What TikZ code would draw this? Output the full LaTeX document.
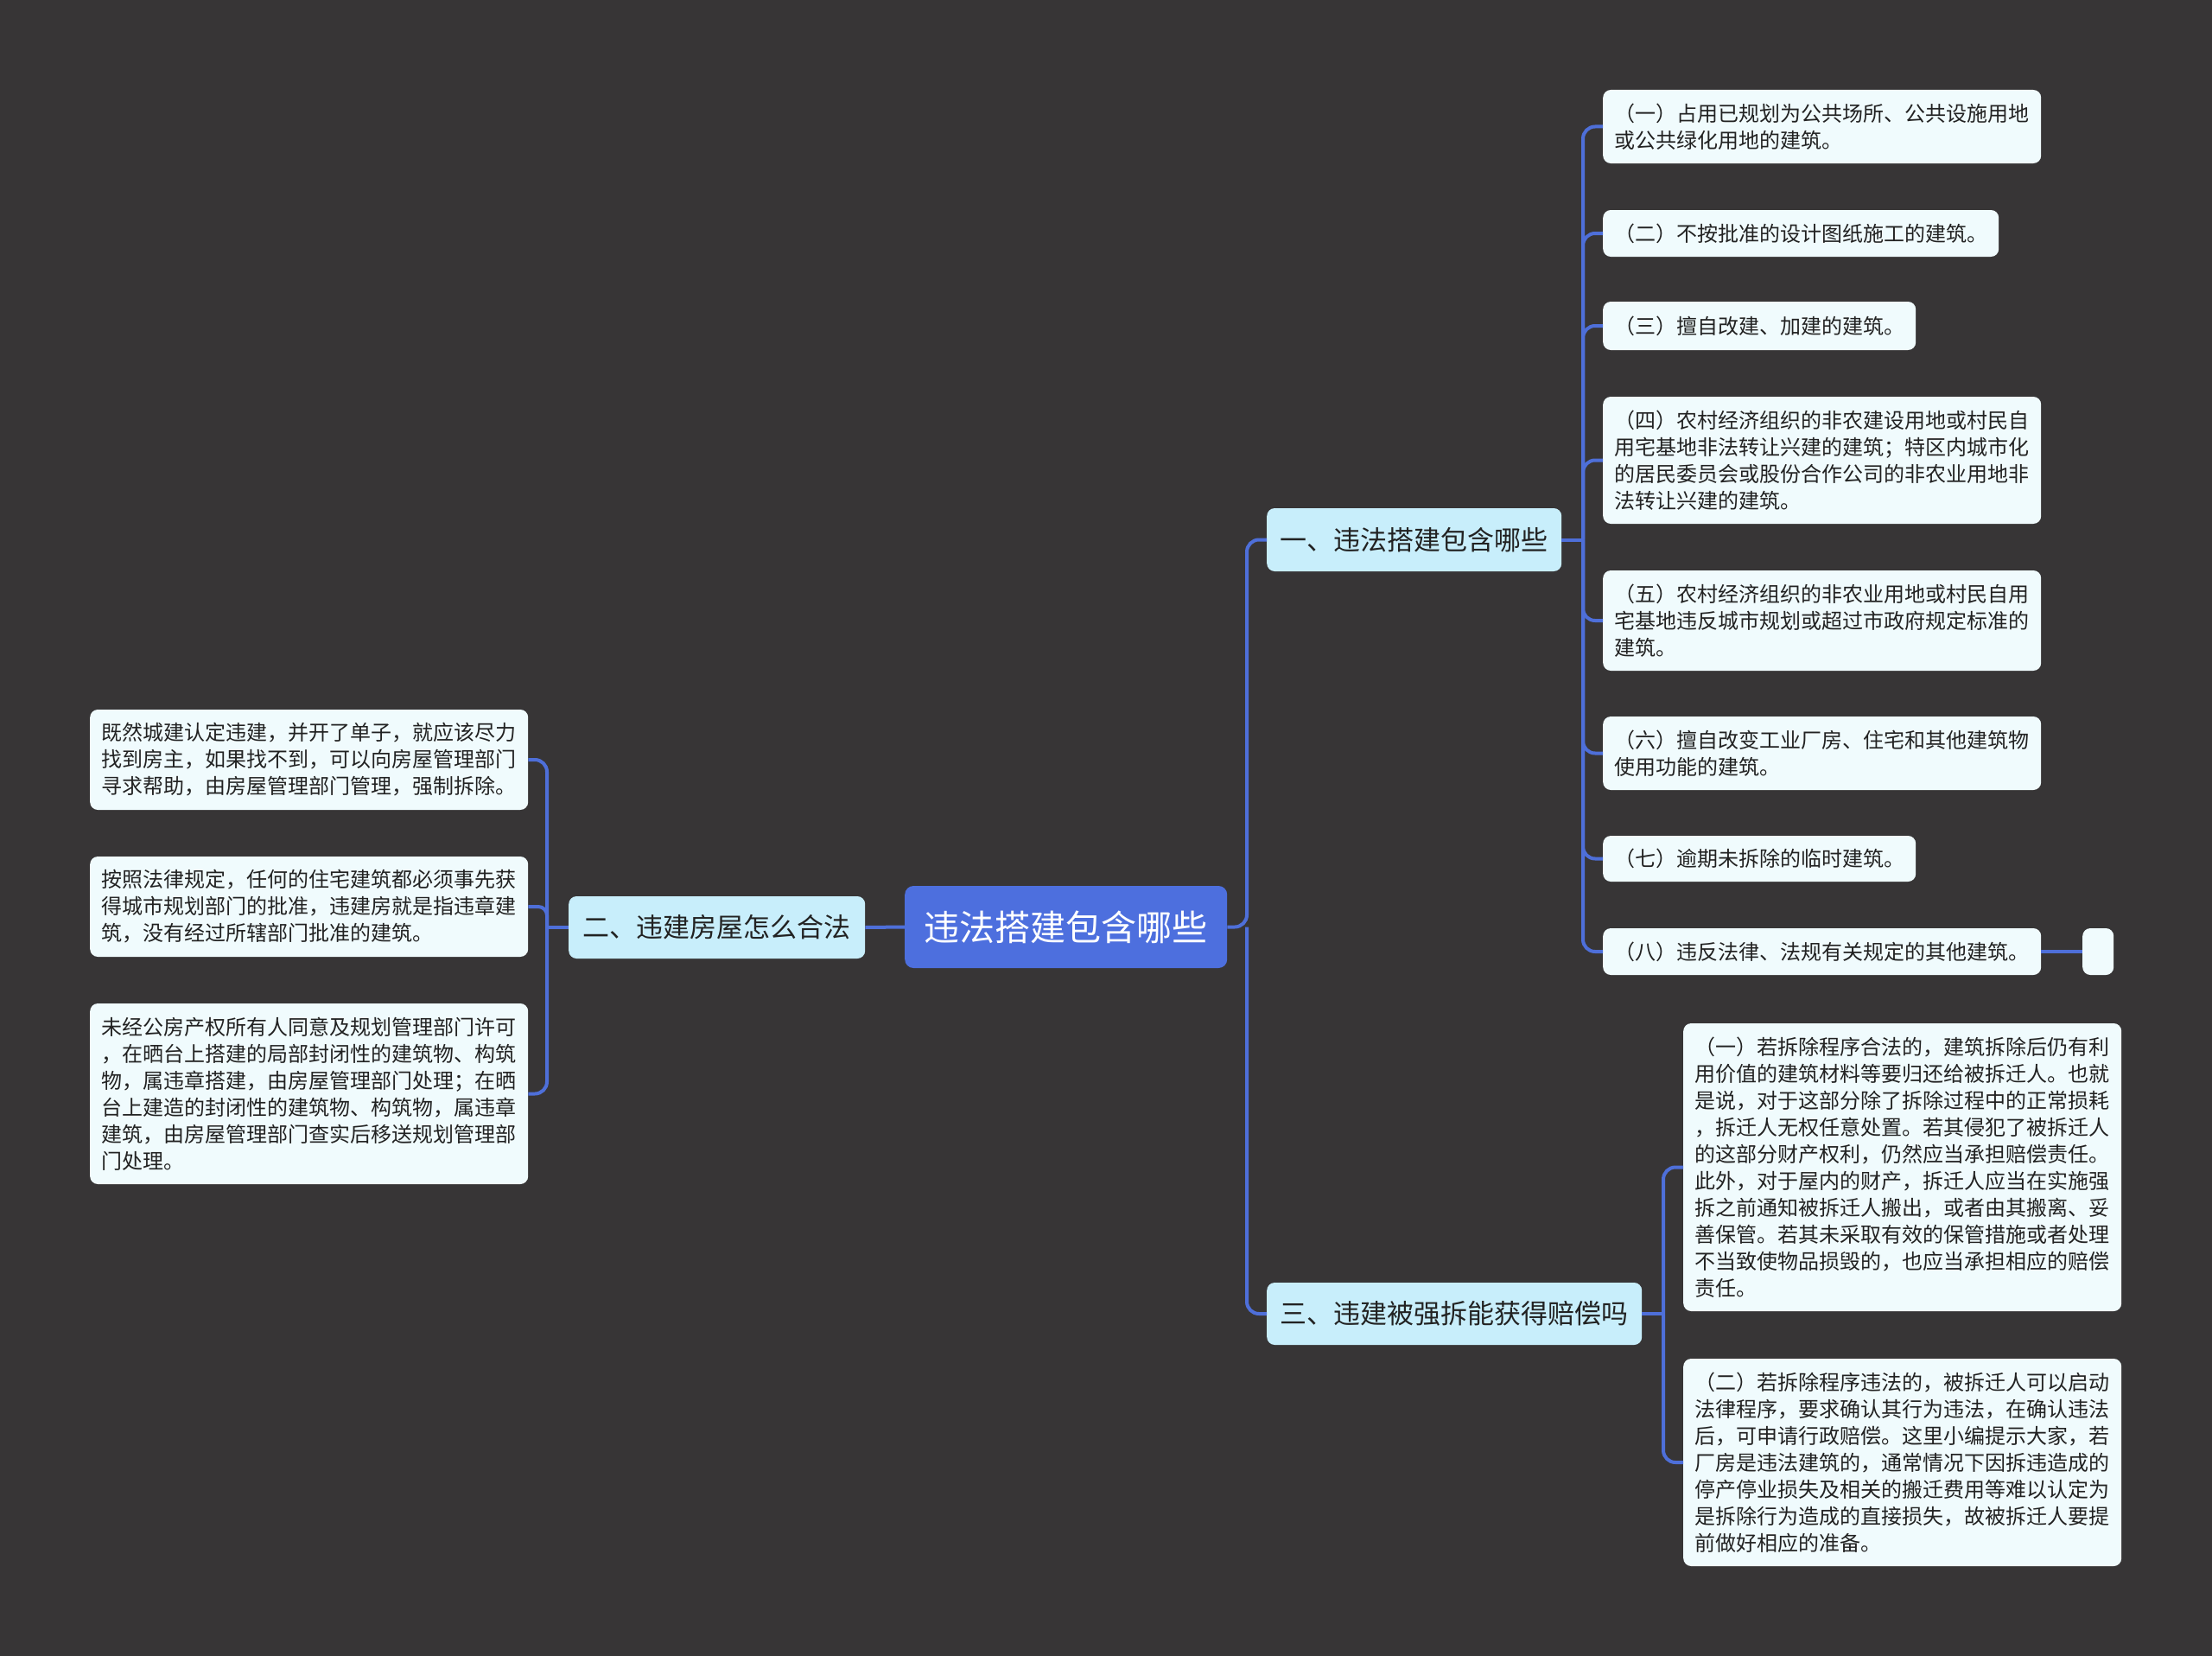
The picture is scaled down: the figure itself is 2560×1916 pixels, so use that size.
\documentclass[tikz,border=0pt]{standalone}
\usepackage{fontspec}
\setmainfont{Noto Sans CJK SC}
\definecolor{bgcol}{RGB}{55,53,54}
\definecolor{leaffill}{RGB}{240,251,253}
\definecolor{branchfill}{RGB}{200,238,251}
\definecolor{rootfill}{RGB}{77,111,222}
\definecolor{linecol}{RGB}{78,111,217}
\definecolor{textdark}{RGB}{34,34,34}
\begin{document}
\begin{tikzpicture}[x=1pt,y=-1pt,
  leaf/.style={fill=leaffill, rounded corners=9pt, anchor=west, inner xsep=13pt, inner ysep=0pt, align=left, font=\fontsize{24}{31}\selectfont, text=textdark},
  branch/.style={fill=branchfill, rounded corners=9pt, anchor=west, inner sep=0pt, font=\fontsize{31}{36}\selectfont, text=textdark},
  rootbox/.style={fill=rootfill, rounded corners=10pt, anchor=west, inner sep=0pt, font=\fontsize{41}{48}\selectfont, text=white},
  conn/.style={draw=linecol, line width=4pt, rounded corners=14pt}
]
\fill[bgcol] (0,0) rectangle (2560,1916);
\useasboundingbox (0,0) rectangle (2560,1916);

% root and branches
\node[rootbox, minimum width=373pt, minimum height=95pt] (root) at (1047,1072.5) {违法搭建包含哪些};
\node[branch, minimum width=341pt, minimum height=73pt] (b1) at (1466,624.5) {一、违法搭建包含哪些};
\node[branch, minimum width=343pt, minimum height=72pt] (b2) at (658,1073) {二、违建房屋怎么合法};
\node[branch, minimum width=434pt, minimum height=72pt] (b3) at (1466,1520) {三、违建被强拆能获得赔偿吗};

% branch 1 leaves
\node[leaf, text width=481pt, minimum height=85pt] (l1) at (1855,146.5) {（一）占用已规划为公共场所、公共设施用地\\或公共绿化用地的建筑。};
\node[leaf, text width=432pt, minimum height=54pt] (l2) at (1855,270) {（二）不按批准的设计图纸施工的建筑。};
\node[leaf, text width=336pt, minimum height=56pt] (l3) at (1855,377) {（三）擅自改建、加建的建筑。};
\node[leaf, text width=481pt, minimum height=147pt] (l4) at (1855,532.5) {（四）农村经济组织的非农建设用地或村民自\\用宅基地非法转让兴建的建筑；特区内城市化\\的居民委员会或股份合作公司的非农业用地非\\法转让兴建的建筑。};
\node[leaf, text width=481pt, minimum height=116pt] (l5) at (1855,718) {（五）农村经济组织的非农业用地或村民自用\\宅基地违反城市规划或超过市政府规定标准的\\建筑。};
\node[leaf, text width=481pt, minimum height=85pt] (l6) at (1855,871.5) {（六）擅自改变工业厂房、住宅和其他建筑物\\使用功能的建筑。};
\node[leaf, text width=336pt, minimum height=53pt] (l7) at (1855,993.5) {（七）逾期未拆除的临时建筑。};
\node[leaf, text width=481pt, minimum height=54pt] (l8) at (1855,1101) {（八）违反法律、法规有关规定的其他建筑。};
\node[leaf, inner xsep=0pt, minimum width=36pt, minimum height=54pt] (e8) at (2410,1101) {};

% branch 3 leaves
\node[leaf, text width=481pt, minimum height=333pt] (m1) at (1948,1350.5) {（一）若拆除程序合法的，建筑拆除后仍有利\\用价值的建筑材料等要归还给被拆迁人。也就\\是说，对于这部分除了拆除过程中的正常损耗\\，拆迁人无权任意处置。若其侵犯了被拆迁人\\的这部分财产权利，仍然应当承担赔偿责任。\\此外，对于屋内的财产，拆迁人应当在实施强\\拆之前通知被拆迁人搬出，或者由其搬离、妥\\善保管。若其未采取有效的保管措施或者处理\\不当致使物品损毁的，也应当承担相应的赔偿\\责任。};
\node[leaf, text width=481pt, minimum height=240pt] (m2) at (1948,1692) {（二）若拆除程序违法的，被拆迁人可以启动\\法律程序，要求确认其行为违法，在确认违法\\后，可申请行政赔偿。这里小编提示大家，若\\厂房是违法建筑的，通常情况下因拆违造成的\\停产停业损失及相关的搬迁费用等难以认定为\\是拆除行为造成的直接损失，故被拆迁人要提\\前做好相应的准备。};

% branch 2 leaves
\node[leaf, text width=481pt, minimum height=116pt] (n1) at (104,879) {既然城建认定违建，并开了单子，就应该尽力\\找到房主，如果找不到，可以向房屋管理部门\\寻求帮助，由房屋管理部门管理，强制拆除。};
\node[leaf, text width=481pt, minimum height=116pt] (n2) at (104,1049) {按照法律规定，任何的住宅建筑都必须事先获\\得城市规划部门的批准，违建房就是指违章建\\筑，没有经过所辖部门批准的建筑。};
\node[leaf, text width=481pt, minimum height=209pt] (n3) at (104,1265.5) {未经公房产权所有人同意及规划管理部门许可\\，在晒台上搭建的局部封闭性的建筑物、构筑\\物，属违章搭建，由房屋管理部门处理；在晒\\台上建造的封闭性的建筑物、构筑物，属违章\\建筑，由房屋管理部门查实后移送规划管理部\\门处理。};

% connectors
\coordinate (s0) at (1443,1072.5);
\draw[conn] (root.east) -- (s0) |- (b1.west);
\draw[conn] (s0) |- (b3.west);

\coordinate (s1) at (1832,624.5);
\draw[conn] (b1.east) -- (s1);
\foreach \n in {l1,l2,l3,l4,l5,l6,l7,l8} \draw[conn] (s1) |- (\n.west);
\draw[conn] (l8.east) -- (e8.west);

\coordinate (s3) at (1925,1520);
\draw[conn] (b3.east) -- (s3);
\draw[conn] (s3) |- (m1.west);
\draw[conn] (s3) |- (m2.west);

\draw[conn] (root.west) -- (b2.east);
\coordinate (s2) at (633,1073);
\draw[conn] (b2.west) -- (s2);
\draw[conn] (s2) |- (n1.east);
\draw[conn, rounded corners=10pt] (s2) |- (n2.east);
\draw[conn] (s2) |- (n3.east);
\end{tikzpicture}
\end{document}
